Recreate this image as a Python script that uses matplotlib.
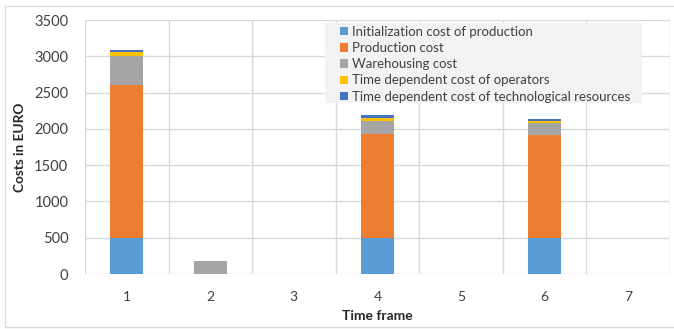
import numpy as np
import matplotlib.pyplot as plt
from matplotlib.patches import Rectangle

plt.rcParams['font.family'] = ['Lato', 'DejaVu Sans']

frames = [1, 2, 3, 4, 5, 6, 7]
init_cost = [500, 0, 0, 500, 0, 500, 0]
production = [2100, 0, 0, 1430, 0, 1410, 0]
warehousing = [400, 185, 0, 180, 0, 165, 0]
operators = [60, 0, 0, 40, 0, 37, 0]
tech_resources = [30, 0, 0, 35, 0, 28, 0]

labels = ['Initialization cost of production', 'Production cost', 'Warehousing cost',
          'Time dependent cost of operators', 'Time dependent cost of technological resources']
colors = ['#5b9bd5', '#ed7d31', '#a5a5a5', '#ffc000', '#4472c4']
series = [init_cost, production, warehousing, operators, tech_resources]

fig = plt.figure(figsize=(6.74, 3.29), dpi=100)
ax = fig.add_axes([0.126, 0.167, 0.868, 0.772])

# outer chart frame
fig.patches.append(Rectangle((0.007, 0.006), 1.1, 0.976, transform=fig.transFigure,
                             fill=False, edgecolor='#d9d9d9', linewidth=1))

x = np.arange(len(frames))
bottom = np.zeros(len(frames))
for vals, lab, col in zip(series, labels, colors):
    v = np.array(vals, dtype=float)
    ax.bar(x, v, 0.4, bottom=bottom, color=col, label=lab, zorder=3)
    bottom += v

ax.set_xlim(-0.5, len(frames) - 0.5)
ax.set_ylim(0, 3500)
ax.set_yticks(np.arange(0, 3501, 500))
ax.set_xticks(x)
ax.set_xticklabels([str(f) for f in frames])
ax.set_xticks(np.arange(-0.5, len(frames), 1), minor=True)
ax.grid(axis='y', which='major', color='#d9d9d9', linewidth=1, zorder=0)
ax.grid(axis='x', which='minor', color='#d9d9d9', linewidth=1, zorder=0)
ax.tick_params(which='both', length=0)
ax.tick_params(axis='x', pad=12, labelsize=10, colors='#404040')
ax.tick_params(axis='y', pad=12, labelsize=10.5, colors='#404040')
for s in ax.spines.values():
    s.set_visible(False)

ax.set_xlabel('Time frame', fontsize=10, fontweight='bold', color='#262626', labelpad=5)
ax.set_ylabel('Costs in EURO', fontsize=9.8, fontweight='bold', color='#262626', labelpad=6)

# legend background box, drawn over the top of the plot
ax.add_patch(Rectangle((0.410, 0.673), 0.542, 0.315, transform=ax.transAxes,
                       facecolor='#f2f2f2', edgecolor='none', zorder=4, clip_on=False))
leg = ax.legend(loc='upper left', bbox_to_anchor=(0.432, 0.988), fontsize=9.5,
                frameon=False, handlelength=0.6, handleheight=0.6, handletextpad=0.3,
                labelspacing=0.32, borderpad=0.2, borderaxespad=0)
leg.set_zorder(5)
for t in leg.get_texts():
    t.set_color('#404040')

fig.savefig('out.png', dpi=100)
